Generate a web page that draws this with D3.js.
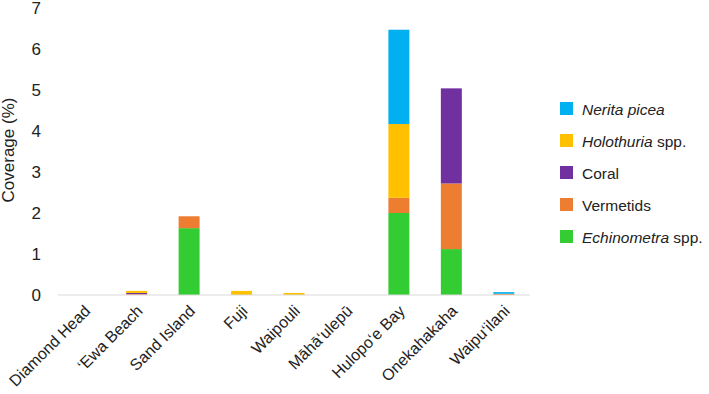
<!DOCTYPE html>
<html>
<head>
<meta charset="utf-8">
<script src="https://d3js.org/d3.v7.min.js"></script>
<style>
  body { margin: 0; background: #fff; }
  svg { font-family: "Liberation Sans", Arial, sans-serif; }
</style>
</head>
<body>
<svg width="709" height="394"></svg>
<script>
var sites = ["Diamond Head", "\u2018Ewa Beach", "Sand Island", "Fuji", "Waipouli",
             "M\u0101h\u0101\u2018ulep\u016b", "Hulopo\u2018e Bay", "Onekahakaha", "Waipu\u2018ilani"];

// stacked bottom to top
var echinometra = [0, 0,    1.63, 0,   0,    0, 2.0,  1.12, 0];
var vermetids   = [0, 0.02, 0.29, 0,   0,    0, 0.37, 1.6,  0.03];
var coral       = [0, 0.03, 0,    0,   0,    0, 0,    2.32, 0];
var holothuria  = [0, 0.05, 0,    0.1, 0.05, 0, 1.8,  0,    0];
var nerita      = [0, 0,    0,    0,   0,    0, 2.3,  0,    0.04];

var yTicks = [0, 1, 2, 3, 4, 5, 6, 7];

var series = [
  {key: "echinometra", values: echinometra, color: "#33cc33", name: "Echinometra", suffix: " spp."},
  {key: "vermetids",   values: vermetids,   color: "#ed7d31", name: "Vermetids",   suffix: ""},
  {key: "coral",       values: coral,       color: "#7030a0", name: "Coral",       suffix: ""},
  {key: "holothuria",  values: holothuria,  color: "#ffc000", name: "Holothuria",  suffix: " spp."},
  {key: "nerita",      values: nerita,      color: "#00b0f0", name: "Nerita picea", suffix: ""}
];
var italicNames = {echinometra: true, holothuria: true, nerita: true};

var svg = d3.select("svg");

var x = d3.scaleBand().domain(sites).range([58, 530]).paddingInner(0.6).paddingOuter(0.3),
    y = d3.scaleLinear().domain([0, 7]).range([295, 8]);

var table = sites.map(function(s, i) {
  var row = {site: s};
  series.forEach(function(d) { row[d.key] = d.values[i]; });
  return row;
});
var stack = d3.stack().keys(series.map(function(d) { return d.key; }))(table);

// bars
svg.append("g").selectAll("g")
  .data(stack)
  .enter().append("g")
    .attr("fill", function(d, i) { return series[i].color; })
  .selectAll("rect")
  .data(function(d) { return d; })
  .enter().append("rect")
    .attr("x", function(d) { return x(d.data.site); })
    .attr("y", function(d) { return y(d[1]); })
    .attr("width", x.bandwidth())
    .attr("height", function(d) { return y(d[0]) - y(d[1]); });

// baseline
svg.append("line")
  .attr("x1", 58).attr("x2", 530)
  .attr("y1", y(0)).attr("y2", y(0))
  .attr("stroke", "#d9d9d9").attr("stroke-width", 1);

// y axis
var yAxis = svg.append("g")
  .attr("transform", "translate(48,0)")
  .call(d3.axisLeft(y).tickValues(yTicks).tickFormat(d3.format("d")).tickSize(0).tickPadding(7));
yAxis.select(".domain").remove();
yAxis.selectAll("text")
  .style("font-size", "17px")
  .style("fill", "#222")
  .style("font-family", "'Liberation Sans', Arial, sans-serif");

svg.append("text")
  .attr("transform", "translate(14,150) rotate(-90)")
  .attr("text-anchor", "middle")
  .style("font-size", "17px")
  .style("fill", "#222")
  .text("Coverage (%)");

// x labels
var xAxis = svg.append("g")
  .attr("transform", "translate(0," + y(0) + ")")
  .call(d3.axisBottom(x).tickSize(0).tickPadding(0));
xAxis.select(".domain").remove();
xAxis.selectAll("text")
  .attr("y", 0).attr("dy", 0)
  .attr("transform", "translate(7,17) rotate(-45)")
  .style("text-anchor", "end")
  .style("font-size", "16px")
  .style("fill", "#222")
  .style("font-family", "'Liberation Sans', Arial, sans-serif");

// legend, top to bottom
var legend = svg.append("g").selectAll("g")
  .data(series.slice().reverse())
  .enter().append("g")
    .attr("transform", function(d, i) { return "translate(560," + (109 + i * 32) + ")"; });

legend.append("rect")
  .attr("x", 0).attr("y", -7)
  .attr("width", 13).attr("height", 13)
  .attr("fill", function(d) { return d.color; });

var lt = legend.append("text")
  .attr("x", 22).attr("y", 5.5)
  .style("font-size", "15.5px")
  .style("fill", "#222");
lt.append("tspan")
  .style("font-style", function(d) { return italicNames[d.key] ? "italic" : "normal"; })
  .text(function(d) { return d.name; });
lt.append("tspan")
  .text(function(d) { return d.suffix; });
</script>
</body>
</html>
